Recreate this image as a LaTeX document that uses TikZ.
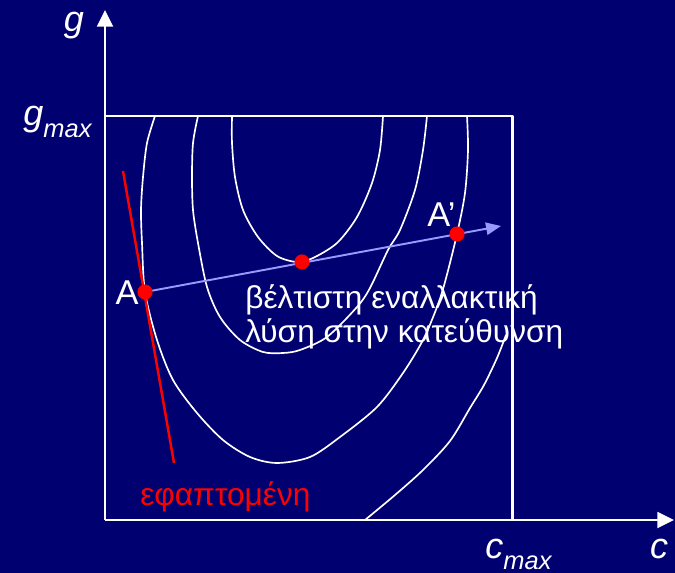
\documentclass[tikz,border=0pt]{standalone}
\usepackage{fontspec}
\setmainfont{Liberation Sans}
\usetikzlibrary{arrows.meta}
\definecolor{optBack}{HTML}{000070}
\definecolor{optRed}{HTML}{FF0000}
\definecolor{optRay}{HTML}{9999FF}
\tikzset{
  opt diagram/.style={x=0.02cm, y=-0.02cm, text=white, line join=round},
  opt axis/.style={draw=white, line width=1.4pt,
    -{Triangle[length=9.5pt,width=9pt]}},
  opt bound/.style={draw=white, line width=1.7pt},
  opt level/.style={draw=white, line width=0.95pt},
  opt tangent/.style={draw=optRed, line width=1.4pt},
  opt ray/.style={draw=optRay, line width=1.1pt,
    -{Triangle[length=8.5pt,width=7pt]}},
  opt dot/.style={circle, fill=optRed, inner sep=0pt, minimum size=8.6pt},
  opt axis label/.style={font=\fontsize{20.5}{24}\selectfont\itshape, inner sep=0pt},
  opt point label/.style={font=\fontsize{19.6}{23}\selectfont, inner sep=0pt},
  opt note/.style={font=\fontsize{18}{19.4}\selectfont, align=left, inner sep=0pt}
}
\newcommand{\lowidx}[1]{\raisebox{-0.33em}{\fontsize{14.5}{14.5}\selectfont #1}}

\begin{document}
\begin{tikzpicture}[opt diagram]
\fill[optBack] (0,0) rectangle (675,573);
\useasboundingbox (0,0) rectangle (675,573);
% axes and feasible box
\coordinate (origin) at (105,520);
\coordinate (gtop) at (105,10);
\coordinate (cend) at (674,520);
\coordinate (gmax) at (105,116);
\coordinate (corner) at (512,116);
\coordinate (cmax) at (512,520);
\draw[opt axis] (origin) -- (gtop);
\draw[opt axis] (origin) -- (cend);
\draw[opt bound] (gmax) -- (corner) -- (cmax);
\node[opt axis label,anchor=base] (glab) at (74,32) {g};
\node[opt axis label,anchor=base west] (gmaxlab) at (23,126) {g\lowidx{max}};
\node[opt axis label,anchor=base west] (cmaxlab) at (485,558) {c\lowidx{max}};
\node[opt axis label,anchor=base] (clab) at (659,558) {c};
% level curves
\draw[opt level] plot[smooth] coordinates {(232,116) (232,143) (235,177) (243,210)
  (258,237) (277,256) (297,262) (313,258) (337,243) (357,217) (372,183) (380,150) (383,116)};
\draw[opt level] plot[smooth] coordinates {(198,116) (193,143) (192,177) (193,210)
  (198,243) (207,287) (220,317) (240,340) (263,352) (283,353) (300,350) (327,337)
  (357,307) (370,288) (388,250) (400,230) (415,190) (423,150) (427,116)};
\draw[opt level] plot[smooth] coordinates {(155,116) (147,143) (143,177) (141,210)
  (142,243) (145,292) (157,340) (173,380) (197,413) (223,440) (250,457) (277,463)
  (310,457) (340,437) (377,407) (403,373) (423,340) (437,307) (445,282) (457,234)
  (465,193) (468,150) (467,116)};
\draw[opt level] plot[smooth] coordinates {(365,520) (395,495) (423,470) (450,441)
  (470,408) (484,385) (497,358) (506,335)};
% tangent and search direction
\coordinate (tantop) at (123,171);
\coordinate (tanbot) at (174,463);
\draw[opt tangent] (tantop) -- (tanbot);
\coordinate (A) at (145,292);
\coordinate (B) at (302,262);
\coordinate (A2) at (457,234);
\coordinate (rayend) at (501,226);
\draw[opt ray] (A) -- (rayend);
\node[opt dot] (Adot) at (A) {};
\node[opt dot] (Bdot) at (B) {};
\node[opt dot] (A2dot) at (A2) {};
\node[opt point label,anchor=base] (Alab) at (127,305) {A};
\node[opt point label,anchor=base west] (A2lab) at (427,227) {A’};
\node[opt note,anchor=base west] (note) at (245,343) {βέλτιστη εναλλακτική\\λύση στην κατεύθυνση};
\node[opt note,text=optRed,anchor=base west] (tanlab) at (140,505) {εφαπτομένη};
\end{tikzpicture}
\end{document}
